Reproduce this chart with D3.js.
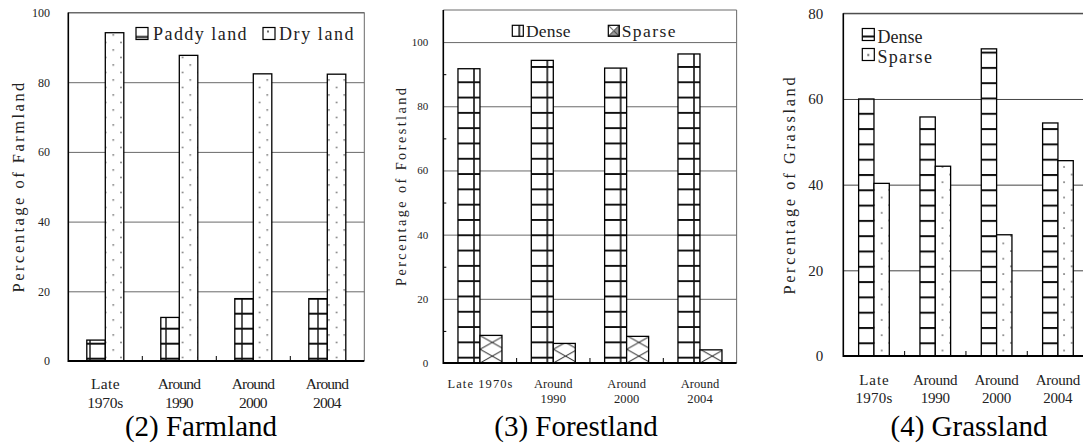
<!DOCTYPE html>
<html>
<head>
<meta charset="utf-8">
<script src="https://cdn.jsdelivr.net/npm/d3@7/dist/d3.min.js"></script>
<style>
  body { margin: 0; background: #fff; }
  svg { display: block; }
</style>
</head>
<body>
<script>
// data
const periods = ['Late 1970s', 'Around 1990', 'Around 2000', 'Around 2004'];
const farmPaddy = [6.0, 12.5, 17.9, 17.9];
const farmDry = [94.2, 87.7, 82.4, 82.3];
const forestDense = [91.7, 94.3, 91.9, 96.3];
const forestSparse = [8.6, 6.1, 8.3, 4.1];
const grassDense = [60.0, 55.8, 71.7, 54.4];
const grassSparse = [40.3, 44.3, 28.3, 45.6];
const farmTicks = [0, 20, 40, 60, 80, 100];
const forestTicks = [0, 20, 40, 60, 80, 100];
const grassTicks = [0, 20, 40, 60, 80];
const forestMinor = [10, 30, 50, 70, 90];

const serif = "'Liberation Serif', 'DejaVu Serif', serif";

const svg = d3.select('body').append('svg')
  .attr('width', 1083)
  .attr('height', 445);

const defs = svg.append('defs');

function pattern(id, x, y, w, h) {
  const p = defs.append('pattern')
    .attr('id', id)
    .attr('patternUnits', 'userSpaceOnUse')
    .attr('x', x).attr('y', y)
    .attr('width', w).attr('height', h);
  p.append('rect').attr('width', w).attr('height', h).attr('fill', '#fff');
  return p;
}

// bar fills
let p = pattern('paddy', 89, 357.7, 76, 15);
p.append('line').attr('x1', 0).attr('x2', 76).attr('y1', 1).attr('y2', 1).attr('stroke', '#111').attr('stroke-width', 2);
p.append('line').attr('x1', 1).attr('x2', 1).attr('y1', 0).attr('y2', 15).attr('stroke', '#111').attr('stroke-width', 1.4);

p = pattern('dry', 109.45, 271.25, 15.4, 15);
p.append('circle').attr('cx', 3.85).attr('cy', 3.75).attr('r', 0.8).attr('fill', '#333');
p.append('circle').attr('cx', 11.55).attr('cy', 11.25).attr('r', 0.8).attr('fill', '#333');

p = pattern('fdense', 473, 81.3, 220 / 3, 15.3);
p.append('line').attr('x1', 0).attr('x2', 80).attr('y1', 1).attr('y2', 1).attr('stroke', '#111').attr('stroke-width', 2);
p.append('line').attr('x1', 1).attr('x2', 1).attr('y1', 0).attr('y2', 16).attr('stroke', '#111').attr('stroke-width', 1.6);

p = pattern('fsparse', 480, 363, 220 / 9, 13.7);
p.append('path').attr('d', `M0,0L${220 / 9},13.7M${220 / 9},0L0,13.7`)
  .attr('stroke', '#222').attr('stroke-width', 1).attr('fill', 'none');

p = pattern('gdense', 0, 342.3, 10, 15.3);
p.append('line').attr('x1', 0).attr('x2', 10).attr('y1', 1).attr('y2', 1).attr('stroke', '#111').attr('stroke-width', 2);

p = pattern('gsparse', 877.9, 239.55, 15.2, 15.3);
p.append('circle').attr('cx', 3.8).attr('cy', 3.8).attr('r', 0.8).attr('fill', '#333');
p.append('circle').attr('cx', 11.4).attr('cy', 11.45).attr('r', 0.8).attr('fill', '#333');

// legend icon fills
function iconPattern(id, x, y, draw) {
  const ip = pattern(id, x, y, 12, 12);
  draw(ip);
}
iconPattern('lg-paddy', 136, 27.5, q => q.append('line').attr('x1', 0).attr('x2', 12).attr('y1', 9.5).attr('y2', 9.5).attr('stroke', '#111').attr('stroke-width', 2));
iconPattern('lg-dry', 263, 27.5, q => q.append('circle').attr('cx', 5).attr('cy', 4).attr('r', 0.9).attr('fill', '#222'));
iconPattern('lg-fdense', 512.3, 25.3, q => q.append('line').attr('x1', 7).attr('x2', 7).attr('y1', 0).attr('y2', 12).attr('stroke', '#111').attr('stroke-width', 1.6));
iconPattern('lg-fsparse', 608.3, 25.3, q => q.append('path').attr('d', 'M0,0L11,11M11,0L0,11M0,11L11,0L11,11Z').attr('stroke', '#222').attr('stroke-width', 1).attr('fill', '#999'));
iconPattern('lg-gdense', 862.3, 28.5, q => q.append('line').attr('x1', 0).attr('x2', 12).attr('y1', 8).attr('y2', 8).attr('stroke', '#111').attr('stroke-width', 2));
iconPattern('lg-gsparse', 862.3, 48.5, q => q.append('circle').attr('cx', 6).attr('cy', 6.5).attr('r', 0.9).attr('fill', '#222'));

const panels = [
  {
    left: 68.3, width: 296, top: 12.5, bottom: 361, max: 100,
    ticks: farmTicks, minor: [], inner: 0.25, grid: '#6a6a6a',
    series: [{ values: farmPaddy, fill: 'url(#paddy)' }, { values: farmDry, fill: 'url(#dry)' }],
    tickFont: 12, tickPad: 18.3,
    labels: [['Late', '1970s'], ['Around', '1990'], ['Around', '2000'], ['Around', '2004']],
    labelFont: 15.5, labelCell: 7.4, labelBase: [389, 408],
    yLabel: 'Percentage of Farmland', yLabelFont: 16.5, yLabelCell: 9.6, yLabelPos: [23.5, 187.5],
    legend: [
      { text: 'Paddy land', icon: [136, 27.5, 12, 12], fill: 'url(#lg-paddy)', tx: 153, ty: 39.5 },
      { text: 'Dry land', icon: [263, 27.5, 12, 12], fill: 'url(#lg-dry)', tx: 279, ty: 39.5 },
    ],
    legendFont: 18, legendCell: 9.5,
    title: '(2) Farmland', titleX: 201,
  },
  {
    left: 443.3, width: 880 / 3, top: 10, bottom: 363, max: 110,
    ticks: forestTicks, minor: forestMinor, inner: 0.2, grid: '#6a6a6a',
    series: [{ values: forestDense, fill: 'url(#fdense)' }, { values: forestSparse, fill: 'url(#fsparse)' }],
    tickFont: 11, tickPad: 15,
    labels: [['Late 1970s'], ['Around', '1990'], ['Around', '2000'], ['Around', '2004']],
    labelFont: 12.5, labelCell: 6.6, labelBase: [388, 403],
    yLabel: 'Percentage of Forestland', yLabelFont: 14.3, yLabelCell: 8.3, yLabelPos: [405.5, 187],
    legend: [
      { text: 'Dense', icon: [512.3, 25.3, 11, 11], fill: 'url(#lg-fdense)', tx: 526, ty: 36.5 },
      { text: 'Sparse', icon: [608.3, 25.3, 11, 11], fill: 'url(#lg-fsparse)', tx: 621.7, ty: 36.5 },
    ],
    legendFont: 17.5, legendCell: 9.2,
    title: '(3) Forestland', titleX: 576,
  },
  {
    left: 843.3, width: 245.3, top: 13.3, bottom: 356, max: 80,
    ticks: grassTicks, minor: [], inner: 0.25, grid: '#444',
    series: [{ values: grassDense, fill: 'url(#gdense)' }, { values: grassSparse, fill: 'url(#gsparse)' }],
    tickFont: 15, tickPad: 20,
    labels: [['Late', '1970s'], ['Around', '1990'], ['Around', '2000'], ['Around', '2004']],
    labelFont: 15, labelCell: 7.6, labelBase: [385, 403],
    yLabel: 'Percentage of Grassland', yLabelFont: 16.3, yLabelCell: 9.5, yLabelPos: [795.4, 186],
    legend: [
      { text: 'Dense', icon: [862.3, 28.5, 12, 12], fill: 'url(#lg-gdense)', tx: 877.5, ty: 42.5 },
      { text: 'Sparse', icon: [862.3, 48.5, 12, 12], fill: 'url(#lg-gsparse)', tx: 877.5, ty: 63 },
    ],
    legendFont: 18, legendCell: 9.3,
    title: '(4) Grassland', titleX: 969,
  },
];

// the original uses a monospaced serif; spread Liberation Serif over the same cells
const cellLength = (t, cell) => (t.length - 0.15) * cell;

function drawPanel(p) {
  const x = d3.scaleBand().domain(periods).range([p.left, p.left + p.width]);
  const y = d3.scaleLinear().domain([0, p.max]).range([p.bottom, p.top]);
  const sub = d3.scaleBand().domain([0, 1])
    .range([x.step() * p.inner, x.step() * (1 - p.inner)]);
  const g = svg.append('g');

  // gridlines
  g.append('g')
    .attr('transform', `translate(${p.left},0)`)
    .call(d3.axisLeft(y).tickValues(p.ticks.filter(d => d > 0)).tickSize(-p.width).tickFormat(''))
    .call(a => a.select('.domain').remove())
    .selectAll('line')
    .attr('stroke', p.grid);

  // frame top / right
  g.append('path')
    .attr('d', `M${p.left},${y(p.max)}H${p.left + p.width}V${p.bottom}`)
    .attr('fill', 'none')
    .attr('stroke', p.grid);

  // bars
  p.series.forEach((s, si) => {
    g.append('g').selectAll('rect')
      .data(s.values)
      .join('rect')
      .attr('x', (d, i) => x(periods[i]) + sub(si))
      .attr('y', d => y(d))
      .attr('width', sub.bandwidth())
      .attr('height', d => y(0) - y(d))
      .attr('fill', s.fill)
      .attr('stroke', '#000')
      .attr('stroke-width', 1.3);
  });

  // minor inside ticks
  if (p.minor.length) {
    g.append('g')
      .attr('transform', `translate(${p.left},0)`)
      .call(d3.axisRight(y).tickValues(p.minor).tickSize(3).tickFormat(''))
      .call(a => a.select('.domain').remove())
      .selectAll('line').attr('stroke', '#000');
  }

  // y tick labels
  g.append('g')
    .attr('transform', `translate(${p.left},0)`)
    .attr('font-family', serif)
    .call(d3.axisLeft(y).tickValues(p.ticks).tickSize(0).tickPadding(p.tickPad))
    .attr('font-family', serif)
    .attr('font-size', p.tickFont)
    .call(a => a.select('.domain').remove())
    .selectAll('text')
    .attr('fill', '#222');

  // spines
  g.append('line')
    .attr('x1', p.left).attr('x2', p.left)
    .attr('y1', y(p.max)).attr('y2', p.bottom + 1)
    .attr('stroke', '#000').attr('stroke-width', 1.6);
  g.append('line')
    .attr('x1', p.left).attr('x2', p.left + p.width)
    .attr('y1', p.bottom).attr('y2', p.bottom)
    .attr('stroke', '#000').attr('stroke-width', 2);

  // category tick marks
  g.append('g').selectAll('line')
    .data(periods.slice(1))
    .join('line')
    .attr('x1', d => x(d)).attr('x2', d => x(d))
    .attr('y1', p.bottom).attr('y2', p.bottom - 5)
    .attr('stroke', '#000');

  // category labels, one text per line
  const lines = p.labels.flatMap((d, i) => d.map((t, j) => ({ t, i, j })));
  g.append('g').selectAll('text')
    .data(lines)
    .join('text')
    .attr('x', d => x(periods[d.i]) + x.bandwidth() / 2)
    .attr('y', d => p.labelBase[d.j])
    .attr('text-anchor', 'middle')
    .attr('font-family', serif)
    .attr('font-size', p.labelFont)
    .attr('fill', '#222')
    .attr('textLength', d => cellLength(d.t, p.labelCell))
    .attr('lengthAdjust', 'spacing')
    .text(d => d.t);

  // y axis title
  g.append('text')
    .attr('transform', `translate(${p.yLabelPos[0]},${p.yLabelPos[1]}) rotate(-90)`)
    .attr('text-anchor', 'middle')
    .attr('font-family', serif)
    .attr('font-size', p.yLabelFont)
    .attr('fill', '#222')
    .attr('textLength', cellLength(p.yLabel, p.yLabelCell))
    .attr('lengthAdjust', 'spacing')
    .text(p.yLabel);

  // legend
  p.legend.forEach(l => {
    g.append('rect')
      .attr('x', l.icon[0]).attr('y', l.icon[1])
      .attr('width', l.icon[2]).attr('height', l.icon[3])
      .attr('fill', l.fill)
      .attr('stroke', '#000').attr('stroke-width', 1.2);
    g.append('text')
      .attr('x', l.tx).attr('y', l.ty)
      .attr('font-family', serif)
      .attr('font-size', p.legendFont)
      .attr('fill', '#222')
      .attr('textLength', cellLength(l.text, p.legendCell))
      .attr('lengthAdjust', 'spacing')
      .text(l.text);
  });

  // panel caption
  g.append('text')
    .attr('x', p.titleX).attr('y', 436)
    .attr('text-anchor', 'middle')
    .attr('font-family', serif)
    .attr('font-size', 29)
    .attr('fill', '#000')
    .text(p.title);
}

panels.forEach(drawPanel);
</script>
</body>
</html>
